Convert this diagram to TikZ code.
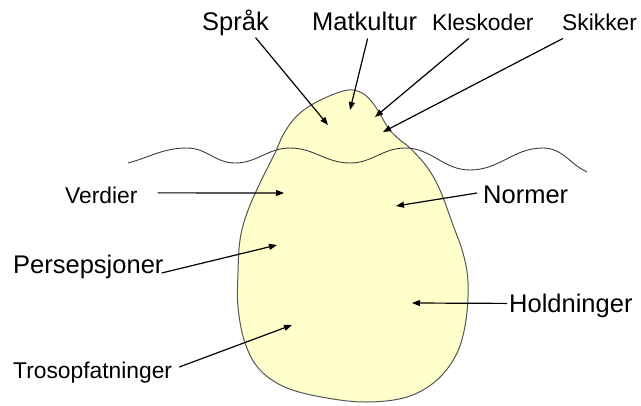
\documentclass[tikz,border=0pt]{standalone}
\usepackage{fontspec}
\setmainfont{Liberation Sans}
\usepackage{xcolor}
\usepackage{tikz}
\usetikzlibrary{arrows.meta,positioning,calc}
\definecolor{icefill}{RGB}{255,255,204}
\definecolor{iceline}{RGB}{85,85,85}
\definecolor{waveline}{RGB}{60,60,60}

\begin{document}
\begin{tikzpicture}[
  x=1pt, y=-1pt,
  biglbl/.style = {inner sep=0pt, anchor=base west, font=\fontsize{25.5}{30}\selectfont},
  smalllbl/.style = {inner sep=0pt, anchor=base west, font=\fontsize{22.8}{27}\selectfont},
  arr/.style = {-{Triangle[length=8pt,width=6pt]}, line width=1.2pt, black}
]
  \useasboundingbox (0,0) rectangle (641,405);

  % iceberg
  \draw[iceline, fill=icefill, line width=1pt] plot[smooth cycle, tension=0.6] coordinates {
    (348,90) (362,93) (372,102) (380,114) (389,129) (400,140) (410,148)
    (427,167) (440,190) (453,225) (463,253) (468,282) (466,320) (457,353)
    (437,380) (407,397) (367,402) (327,398) (287,388) (260,370) (245,343)
    (238,307) (238,273) (240,240) (247,213) (260,183) (275,153) (283,135)
    (294,119) (308,107) (327,97)};

  % water surface
  \draw[waveline, line width=0.9pt] (128,163) to[out=15,in=180] (187,148)
    to[out=0,in=180] (235,163) to[out=0,in=180] (290,148)
    to[out=0,in=180] (350,163) to[out=0,in=180] (405,148)
    to[out=0,in=180] (470,170) to[out=0,in=180] (543,148)
    to[out=0,in=155] (587,172);

  % labels
  \node[biglbl]   (sprak)  at (202,30)  {Språk};
  \node[biglbl]   (matk)   at (312,30)  {Matkultur};
  \node[smalllbl] (kles)   at (432,30)  {Kleskoder};
  \node[smalllbl] (skikk)  at (562,30)  {Skikker};
  \node[smalllbl] (verd)   at (65,203)  {Verdier};
  \node[biglbl]   (normer) at (483,203) {Normer};
  \node[biglbl]   (persep) at (13,273)  {Persepsjoner};
  \node[biglbl]   (hold)   at (509,312) {Holdninger};
  \node[smalllbl] (tros)   at (13,378)  {Trosopfatninger};

  % arrow targets
  \coordinate (sprakpt)  at (328,125);
  \coordinate (matkpt)   at (350,110);
  \coordinate (klespt)   at (375,117);
  \coordinate (skikkpt)  at (383,132);
  \coordinate (verdpt)   at (284,193);
  \coordinate (normerpt) at (396,206);
  \coordinate (perseppt) at (277,245);
  \coordinate (holdpt)   at (412,303);
  \coordinate (trospt)   at (292,325);

  \draw[arr] ([xshift=20pt,yshift=-2pt]sprak.south) -- (sprakpt);
  \draw[arr] ([xshift=3pt,yshift=-8pt]matk.south)   -- (matkpt);
  \draw[arr] ([xshift=-14pt,yshift=-8pt]kles.south) -- (klespt);
  \draw[arr] ([xshift=1pt,yshift=-8pt]skikk.south west) -- (skikkpt);
  \draw[arr] ([xshift=20pt,yshift=2pt]verd.east)    -- (verdpt);
  \draw[arr] ([xshift=-6pt,yshift=10pt]normer.base west) -- (normerpt);
  \draw[arr] ([xshift=-2pt]persep.base east)        -- (perseppt);
  \draw[arr] ([xshift=-2pt,yshift=2pt]hold.west)    -- (holdpt);
  \draw[arr] ([xshift=7pt,yshift=11pt]tros.base east) -- (trospt);
\end{tikzpicture}
\end{document}
